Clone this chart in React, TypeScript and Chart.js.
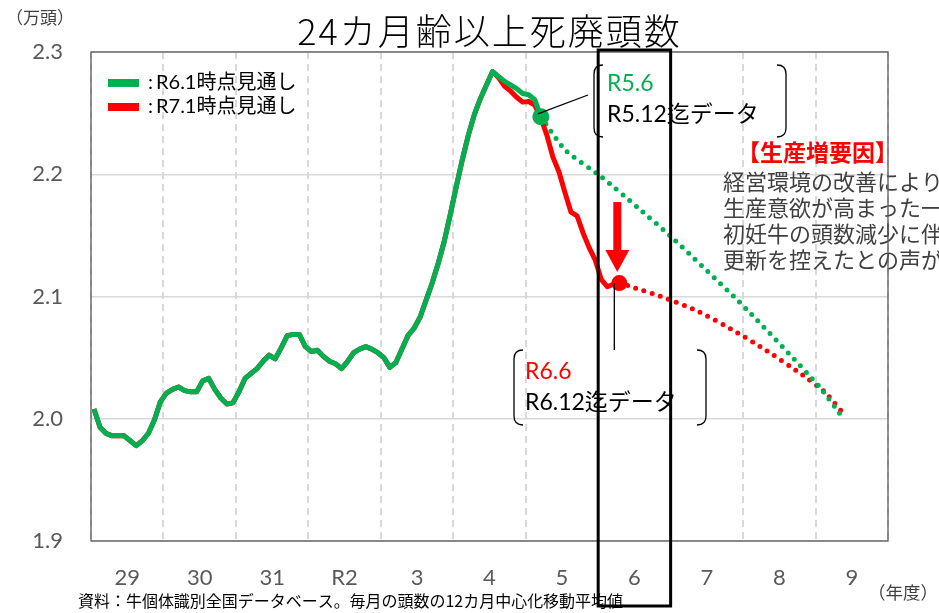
import React, { useEffect, useRef } from "react";
import { Chart, registerables } from "chart.js";

Chart.register(...registerables);

// ---------- data ----------
const FISCAL_YEARS = ["29", "30", "31", "R2", "3", "4", "5", "6", "7", "8", "9"];
const Y_MIN = 1.9;
const Y_MAX = 2.3;
const Y_STEP = 0.1;

// monthly values (万頭), month 0 = April of FY29; R6.1 outlook, actual up to R5.6 (month 74)
const GREEN_ACTUAL = [
  2.008, 1.993, 1.988, 1.986, 1.986, 1.986, 1.982, 1.978, 1.982, 1.988, 1.999, 2.014,
  2.021, 2.024, 2.026, 2.023, 2.022, 2.022, 2.031, 2.033, 2.024, 2.017, 2.012, 2.013,
  2.022, 2.033, 2.037, 2.041, 2.047, 2.052, 2.049, 2.058, 2.068, 2.069, 2.069, 2.059,
  2.055, 2.056, 2.051, 2.047, 2.045, 2.041, 2.047, 2.054, 2.057, 2.059, 2.057, 2.054,
  2.050, 2.042, 2.046, 2.057, 2.068, 2.074, 2.083, 2.097, 2.111, 2.127, 2.145, 2.167,
  2.190, 2.212, 2.232, 2.249, 2.262, 2.273, 2.284, 2.280, 2.276, 2.273, 2.270, 2.266,
  2.265, 2.261, 2.247,
];
// R7.1 outlook: revised actual values from month 67 up to R6.6 point (month 87)
const RED_REVISED_START = 67;
const RED_REVISED = [
  2.279, 2.272, 2.268, 2.263, 2.259, 2.2595, 2.2565, 2.246, 2.232, 2.214, 2.202, 2.185,
  2.169, 2.166, 2.152, 2.140, 2.130, 2.114, 2.108, 2.110, 2.111,
];
// projections (read at selected months)
const GREEN_OUTLOOK_MONTHS = [74, 78, 84, 90, 96, 108, 120, 124];
const GREEN_OUTLOOK_VALUES = [2.247, 2.220, 2.198, 2.173, 2.147, 2.090, 2.027, 2.001];
const RED_OUTLOOK_MONTHS = [87, 89, 95, 100, 106, 111, 117, 121, 124];
const RED_OUTLOOK_VALUES = [2.111, 2.108, 2.098, 2.088, 2.072, 2.057, 2.037, 2.022, 2.005];

const SERIES_LABELS = ["R6.1時点見通し", "R7.1時点見通し"];
const GREEN = "#00b050";
const RED = "#ff0000";

const TITLE = "24カ月齢以上死廃頭数";
const Y_UNIT = "（万頭）";
const X_UNIT = "（年度）";
const SOURCE = "資料：牛個体識別全国データベース。毎月の頭数の12カ月中心化移動平均値";
const CALLOUT1 = ["R5.6", "R5.12迄データ"];
const CALLOUT2 = ["R6.6", "R6.12迄データ"];
const NOTE_HEAD = "【生産増要因】";
const NOTE_LINES = [
  "経営環境の改善により",
  "生産意欲が高まった一方、",
  "初妊牛の頭数減少に伴い",
  "更新を控えたとの声が",
];

const LATIN = '"Lato", "Noto Sans CJK JP", sans-serif';
const JP = '"Noto Sans CJK JP", sans-serif';

const W = 939;
const H = 613;

const toPoints = (months: number[], values: number[]) =>
  months.map((m, k) => ({ x: m + 0.5, y: values[k] }));

function bracket(ctx: CanvasRenderingContext2D, x: number, y0: number, y1: number, dir: number, r: number) {
  ctx.beginPath();
  ctx.moveTo(x + dir * r, y0);
  ctx.quadraticCurveTo(x, y0, x, y0 + r);
  ctx.lineTo(x, y1 - r);
  ctx.quadraticCurveTo(x, y1, x + dir * r, y1);
  ctx.stroke();
}

const decorPlugin = {
  id: "decor",
  afterDraw(chart: any) {
    const { ctx, chartArea, scales } = chart;
    const xs = scales.x;
    const ys = scales.y;
    ctx.save();

    // title & unit labels
    ctx.fillStyle = "#000";
    ctx.textAlign = "center";
    ctx.textBaseline = "middle";
    ctx.font = `300 36px ${JP}`;
    (ctx as any).letterSpacing = "2px";
    ctx.fillText(TITLE, (chartArea.left + chartArea.right) / 2, 31);
    (ctx as any).letterSpacing = "0px";

    ctx.fillStyle = "#404040";
    ctx.textAlign = "left";
    ctx.font = `17px ${JP}`;
    ctx.fillText(Y_UNIT, 6, 18);
    ctx.textAlign = "right";
    ctx.font = `17.5px ${JP}`;
    ctx.fillText(X_UNIT, 938, 592);

    ctx.fillStyle = "#000";
    ctx.textAlign = "left";
    ctx.font = `16px ${JP}`;
    ctx.fillText(SOURCE, 78, 601, 545);

    // legend
    const legendSets = [chart.data.datasets[0], chart.data.datasets[1]];
    legendSets.forEach((ds: any, k: number) => {
      const cy = 83 + k * 24;
      ctx.fillStyle = ds.borderColor;
      ctx.fillRect(108, cy - 4, 31, 8);
      ctx.fillStyle = "#000";
      ctx.font = `20px ${LATIN}`;
      ctx.textBaseline = "middle";
      ctx.fillText(":", 148, cy);
      ctx.fillText(ds.label, 156, cy);
    });

    // note text
    ctx.fillStyle = RED;
    ctx.font = `bold 23px ${JP}`;
    ctx.fillText(NOTE_HEAD, 737, 152);
    ctx.fillStyle = "#404040";
    ctx.font = `22px ${JP}`;
    NOTE_LINES.forEach((t, k) => ctx.fillText(t, 723, 182 + k * 26));

    // frame
    ctx.strokeStyle = "#595959";
    ctx.lineWidth = 1.3;
    ctx.strokeRect(chartArea.left, chartArea.top, chartArea.right - chartArea.left, chartArea.bottom - chartArea.top);

    // markers
    const gx = xs.getPixelForValue(GREEN_ACTUAL.length - 1 + 0.5);
    const gy = ys.getPixelForValue(GREEN_ACTUAL[GREEN_ACTUAL.length - 1]);
    const rIdx = RED_REVISED_START + RED_REVISED.length - 1;
    const rx = xs.getPixelForValue(rIdx + 0.5);
    const ry = ys.getPixelForValue(RED_REVISED[RED_REVISED.length - 1]);

    // callout 1
    ctx.strokeStyle = "#000";
    ctx.lineWidth = 1.3;
    ctx.beginPath();
    ctx.moveTo(gx - 3, gy - 3);
    ctx.lineTo(588, 95);
    ctx.stroke();
    bracket(ctx, 594, 65, 137, 1, 9);
    bracket(ctx, 786, 65, 137, -1, 9);
    ctx.font = `23px ${LATIN}`;
    ctx.fillStyle = GREEN;
    ctx.fillText(CALLOUT1[0], 607, 84);
    ctx.fillStyle = "#000";
    ctx.fillText(CALLOUT1[1], 607, 115);

    // callout 2
    ctx.beginPath();
    ctx.moveTo(rx - 5, ry);
    ctx.lineTo(rx - 5, 350);
    ctx.stroke();
    bracket(ctx, 514, 350, 425, 1, 9);
    bracket(ctx, 706, 350, 425, -1, 9);
    ctx.fillStyle = RED;
    ctx.fillText(CALLOUT2[0], 525, 372);
    ctx.fillStyle = "#000";
    ctx.fillText(CALLOUT2[1], 525, 403);

    // arrow
    ctx.fillStyle = RED;
    const ax = rx - 2;
    ctx.fillRect(ax - 4, ry - 81, 8, 50);
    ctx.beginPath();
    ctx.moveTo(ax - 12, ry - 33);
    ctx.lineTo(ax + 12, ry - 33);
    ctx.lineTo(ax, ry - 11);
    ctx.closePath();
    ctx.fill();

    // FY6 highlight box
    const bx0 = xs.getPixelForValue(7 * 12);
    const bx1 = xs.getPixelForValue(8 * 12);
    ctx.strokeStyle = "#000";
    ctx.lineWidth = 3;
    ctx.strokeRect(bx0, chartArea.top - 2, bx1 - bx0, H - 7 - (chartArea.top - 2));

    ctx.restore();
  },
};

export default function App() {
  const ref = useRef<HTMLCanvasElement | null>(null);

  useEffect(() => {
    if (!ref.current) return;
    const greenActual = GREEN_ACTUAL.map((v, i) => ({ x: i + 0.5, y: v }));
    const redActual = GREEN_ACTUAL.slice(0, RED_REVISED_START)
      .concat(RED_REVISED)
      .map((v, i) => ({ x: i + 0.5, y: v }));
    const lastDot = (r: number) => (c: any) =>
      c.dataIndex === c.dataset.data.length - 1 ? r : 0;

    const chart = new Chart(ref.current, {
      type: "line",
      data: {
        datasets: [
          {
            label: SERIES_LABELS[0],
            data: greenActual,
            borderColor: GREEN,
            backgroundColor: GREEN,
            borderWidth: 5,
            pointRadius: lastDot(8.5),
            pointBorderWidth: 0,
            borderJoinStyle: "round",
            tension: 0,
            order: 1,
          },
          {
            label: SERIES_LABELS[1],
            data: redActual,
            borderColor: RED,
            backgroundColor: RED,
            borderWidth: 5,
            pointRadius: lastDot(8),
            pointBorderWidth: 0,
            borderJoinStyle: "round",
            tension: 0,
            order: 2,
          },
          {
            label: SERIES_LABELS[0] + "（見通し）",
            data: toPoints(GREEN_OUTLOOK_MONTHS, GREEN_OUTLOOK_VALUES),
            borderColor: GREEN,
            borderWidth: 5,
            borderDash: [0, 8.8],
            borderCapStyle: "round",
            pointRadius: 0,
            tension: 0.2,
            order: 3,
          },
          {
            label: SERIES_LABELS[1] + "（見通し）",
            data: toPoints(RED_OUTLOOK_MONTHS, RED_OUTLOOK_VALUES),
            borderColor: RED,
            borderWidth: 5,
            borderDash: [0, 8.6],
            borderCapStyle: "round",
            pointRadius: 0,
            tension: 0.2,
            order: 4,
          },
        ],
      },
      options: {
        animation: false,
        responsive: false,
        events: [],
        layout: { padding: { top: 52, right: W - 888, left: 0, bottom: 0 } },
        plugins: {
          legend: { display: false },
          title: { display: false },
          tooltip: { enabled: false },
        },
        scales: {
          x: {
            type: "linear",
            min: 0,
            max: FISCAL_YEARS.length * 12,
            afterFit: (s: any) => {
              s.height = 72;
            },
            afterBuildTicks: (s: any) => {
              const t = [];
              for (let v = 0; v <= FISCAL_YEARS.length * 12; v += 6) t.push({ value: v });
              s.ticks = t;
            },
            ticks: {
              autoSkip: false,
              maxRotation: 0,
              minRotation: 0,
              padding: 24,
              color: "#595959",
              font: { size: 22, family: LATIN },
              callback: (v: any) =>
                v % 12 === 6 ? FISCAL_YEARS[(v - 6) / 12] : "",
            },
            grid: {
              drawTicks: false,
              lineWidth: 2,
              color: (c: any) =>
                c.tick && c.tick.value % 12 === 0 ? "#d9d9d9" : "rgba(0,0,0,0)",
            },
            border: { display: false, dash: [7, 5] },
          },
          y: {
            min: Y_MIN,
            max: Y_MAX,
            afterFit: (s: any) => {
              s.width = 91;
            },
            ticks: {
              stepSize: Y_STEP,
              padding: 28,
              color: "#595959",
              font: { size: 22, family: LATIN },
              callback: (v: any) => Number(v).toFixed(1),
            },
            grid: { drawTicks: false, color: "#d9d9d9", lineWidth: 1.5 },
            border: { display: false },
          },
        },
      },
      plugins: [decorPlugin],
    } as any);
    return () => chart.destroy();
  }, []);

  return (
    <div style={{ position: "fixed", left: 0, top: 0, width: W, height: H, background: "#fff" }}>
      <canvas ref={ref} width={W} height={H} style={{ display: "block", width: W, height: H }} />
    </div>
  );
}
